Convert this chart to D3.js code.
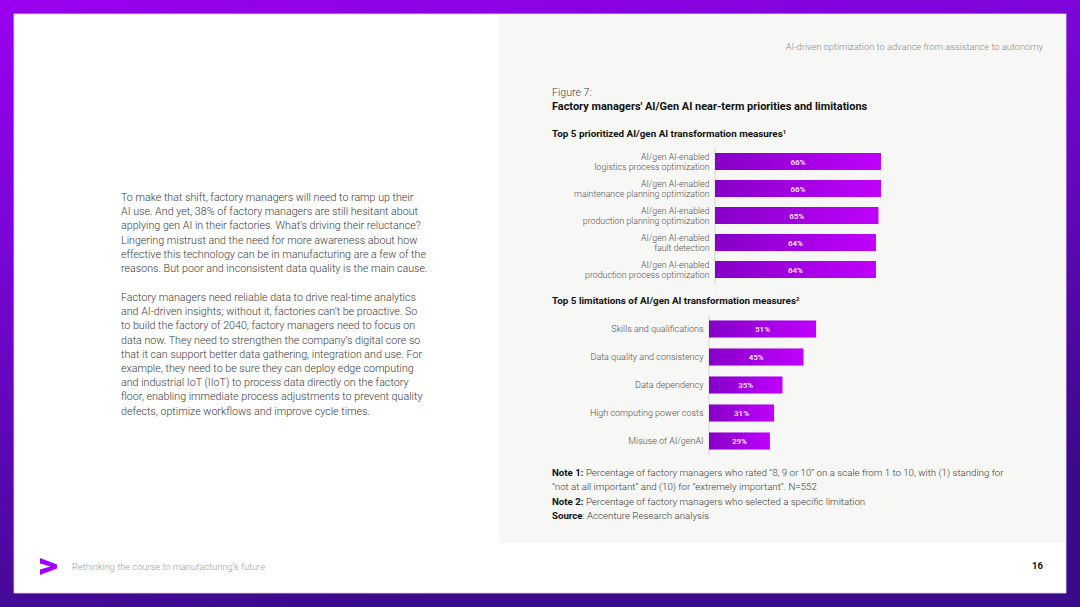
<!DOCTYPE html>
<html>
<head>
<meta charset="utf-8">
<script src="https://cdn.jsdelivr.net/npm/d3@7"></script>
<style>
  html, body { margin: 0; padding: 0; background: #3a0a8a; }
  svg { display: block; font-family: Roboto, "Noto Sans", sans-serif; }
</style>
</head>
<body>
<svg id="chart" width="1080" height="607"></svg>
<script>
// ---------- data ----------
const topCategories = [
  ["AI/gen AI-enabled", "logistics process optimization"],
  ["AI/gen AI-enabled", "maintenance planning optimization"],
  ["AI/gen AI-enabled", "production planning optimization"],
  ["AI/gen AI-enabled", "fault detection"],
  ["AI/gen AI-enabled", "production process optimization"]
];
const topValues = [66, 66, 65, 64, 64];

const bottomCategories = [
  "Skills and qualifications",
  "Data quality and consistency",
  "Data dependency",
  "High computing power costs",
  "Misuse of AI/genAI"
];
const bottomValues = [51, 45, 35, 31, 29];

const headerText = "AI-driven optimization to advance from assistance to autonomy";
const figureLabel = "Figure 7:";
const figureTitle = "Factory managers' AI/Gen AI near-term priorities and limitations";
const topSubtitle = "Top 5 prioritized AI/gen AI transformation measures";
const bottomSubtitle = "Top 5 limitations of AI/gen AI transformation measures";
const notes = [
  [["Note 1:", true], [" Percentage of factory managers who rated \u201c8, 9 or 10\u201d on a scale from 1 to 10, with (1) standing for", false]],
  [["\u201cnot at all important\u201d and (10) for \u201cextremely important\u201d. N=552", false]],
  [["Note 2:", true], [" Percentage of factory managers who selected a specific limitation", false]],
  [["Source", true], [": Accenture Research analysis", false]]
];
const para1 = [
  "To make that shift, factory managers will need to ramp up their",
  "AI use. And yet, 38% of factory managers are still hesitant about",
  "applying gen AI in their factories. What\u2019s driving their reluctance?",
  "Lingering mistrust and the need for more awareness about how",
  "effective this technology can be in manufacturing are a few of the",
  "reasons. But poor and inconsistent data quality is the main cause."
];
const para2 = [
  "Factory managers need reliable data to drive real-time analytics",
  "and AI-driven insights; without it, factories can\u2019t be proactive. So",
  "to build the factory of 2040, factory managers need to focus on",
  "data now. They need to strengthen the company\u2019s digital core so",
  "that it can support better data gathering, integration and use. For",
  "example, they need to be sure they can deploy edge computing",
  "and industrial IoT (IIoT) to process data directly on the factory",
  "floor, enabling immediate process adjustments to prevent quality",
  "defects, optimize workflows and improve cycle times."
];
const footerText = "Rethinking the course to manufacturing\u2019s future";
const pageNumber = "16";

// ---------- drawing ----------
const svg = d3.select("#chart");
const defs = svg.append("defs");

const bg = defs.append("linearGradient").attr("id", "bg")
  .attr("x1", "0").attr("y1", "0").attr("x2", "0.35").attr("y2", "1");
bg.append("stop").attr("offset", "0%").attr("stop-color", "#9a00ee");
bg.append("stop").attr("offset", "35%").attr("stop-color", "#7a06d8");
bg.append("stop").attr("offset", "100%").attr("stop-color", "#3a0a8a");

const barGrad = defs.append("linearGradient").attr("id", "barGrad")
  .attr("x1", "0").attr("y1", "0").attr("x2", "1").attr("y2", "0");
barGrad.append("stop").attr("offset", "0%").attr("stop-color", "#8600c6");
barGrad.append("stop").attr("offset", "100%").attr("stop-color", "#c000fd");

svg.append("rect").attr("width", 1080).attr("height", 607).attr("fill", "url(#bg)");
// white page
svg.append("rect").attr("x", 14).attr("y", 14).attr("width", 1052).attr("height", 579)
  .attr("fill", "#ffffff").attr("stroke", "#e6d6f2").attr("stroke-width", 0.8);
// grey right panel
svg.append("rect").attr("x", 499).attr("y", 14).attr("width", 567).attr("height", 529)
  .attr("fill", "#f7f7f5");

// header
svg.append("text").attr("x", 1043).attr("y", 50).attr("text-anchor", "end")
  .attr("font-size", 9.3).attr("font-weight", 300).attr("fill", "#8a8a8a")
  .text(headerText);

// left body text
const bodyG = svg.append("g").attr("font-size", 10.7).attr("fill", "#3a3a3a").attr("font-weight", 300);
para1.forEach((l, i) => bodyG.append("text").attr("x", 121).attr("y", 201 + i * 14.2).text(l));
para2.forEach((l, i) => bodyG.append("text").attr("x", 121).attr("y", 301 + i * 14.2).text(l));

// figure titles
svg.append("text").attr("x", 552).attr("y", 96).attr("font-size", 10.6)
  .attr("fill", "#444").attr("font-weight", 300).text(figureLabel);
svg.append("text").attr("x", 552).attr("y", 110).attr("font-size", 10.95)
  .attr("fill", "#111").attr("font-weight", 700).text(figureTitle);
const st1 = svg.append("text").attr("x", 552).attr("y", 137).attr("font-size", 9.85)
  .attr("fill", "#111").attr("font-weight", 700);
st1.append("tspan").text(topSubtitle);
st1.append("tspan").attr("font-size", 6).attr("dy", -3.5).text("1");
const st2 = svg.append("text").attr("x", 552).attr("y", 304).attr("font-size", 9.85)
  .attr("fill", "#111").attr("font-weight", 700);
st2.append("tspan").text(bottomSubtitle);
st2.append("tspan").attr("font-size", 6).attr("dy", -3.5).text("2");

// ----- top chart -----
const yTop = d3.scaleBand().domain(topCategories.map((d, i) => i))
  .range([148, 283]).paddingInner(0.37).paddingOuter(0.185);
const xTop = d3.scaleLinear().domain([0, 100]).range([715, 966.5]);

const topAxis = svg.append("g").attr("transform", "translate(714.5,0)")
  .call(d3.axisLeft(yTop).tickSize(0).tickSizeOuter(0).tickPadding(5).tickFormat(""));
topAxis.select(".domain").attr("stroke", "#d4d4d4").attr("stroke-width", 1);
topAxis.selectAll(".tick text").remove();
topAxis.selectAll(".tick").each(function(d) {
  const t = d3.select(this).append("text").attr("x", -5).attr("text-anchor", "end")
    .attr("font-size", 8.8).attr("fill", "#505050").attr("font-weight", 300)
    .attr("font-family", "Roboto, sans-serif");
  topCategories[d].forEach((line, j) => {
    t.append("tspan").attr("x", -5).attr("y", j === 0 ? -2 : 8.5).text(line);
  });
});

svg.append("g").selectAll("rect").data(topValues).join("rect")
  .attr("x", xTop(0)).attr("y", (d, i) => yTop(i))
  .attr("width", d => xTop(d) - xTop(0)).attr("height", yTop.bandwidth())
  .attr("fill", "url(#barGrad)");
svg.append("g").selectAll("text").data(topValues).join("text")
  .attr("x", d => (xTop(0) + xTop(d)) / 2).attr("y", (d, i) => yTop(i) + yTop.bandwidth() / 2 + 3)
  .attr("text-anchor", "middle").attr("font-size", 8).attr("font-weight", 500)
  .attr("fill", "#ffffff").text(d => d + "%");

// ----- bottom chart -----
const yBot = d3.scaleBand().domain(bottomCategories)
  .range([315, 455]).paddingInner(0.39).paddingOuter(0.195);
const xBot = d3.scaleLinear().domain([0, 100]).range([709, 919]);

const botAxis = svg.append("g").attr("transform", "translate(708.5,0)")
  .call(d3.axisLeft(yBot).tickSize(0).tickSizeOuter(0).tickPadding(5));
botAxis.select(".domain").attr("stroke", "#d4d4d4").attr("stroke-width", 1);
botAxis.selectAll(".tick text").attr("font-size", 9).attr("fill", "#505050")
  .attr("font-weight", 300).attr("font-family", "Roboto, sans-serif");

svg.append("g").selectAll("rect").data(bottomValues).join("rect")
  .attr("x", xBot(0)).attr("y", (d, i) => yBot(bottomCategories[i]))
  .attr("width", d => xBot(d) - xBot(0)).attr("height", yBot.bandwidth())
  .attr("fill", "url(#barGrad)");
svg.append("g").selectAll("text").data(bottomValues).join("text")
  .attr("x", d => (xBot(0) + xBot(d)) / 2)
  .attr("y", (d, i) => yBot(bottomCategories[i]) + yBot.bandwidth() / 2 + 3)
  .attr("text-anchor", "middle").attr("font-size", 8).attr("font-weight", 500)
  .attr("fill", "#ffffff").text(d => d + "%");

// notes
const notesG = svg.append("g").attr("font-size", 9.7).attr("fill", "#3a3a3a");
notes.forEach((parts, i) => {
  const t = notesG.append("text").attr("x", 552).attr("y", 476 + i * 14.3);
  parts.forEach(([s, b]) => t.append("tspan")
    .attr("font-weight", b ? 700 : 300).attr("fill", b ? "#111" : "#3a3a3a").text(s));
});

// footer
svg.append("path").attr("d", "M40,558 L57,564.5 L57,568.5 L40,575 L40,569.5 L50.5,566.5 L40,563.5 Z")
  .attr("fill", "#a100ff");
svg.append("text").attr("x", 72).attr("y", 570).attr("font-size", 9.3)
  .attr("font-weight", 300).attr("fill", "#9a9a9a").text(footerText);
svg.append("text").attr("x", 1043).attr("y", 569).attr("text-anchor", "end")
  .attr("font-size", 9.5).attr("font-weight", 700).attr("fill", "#111").text(pageNumber);
</script>
</body>
</html>
